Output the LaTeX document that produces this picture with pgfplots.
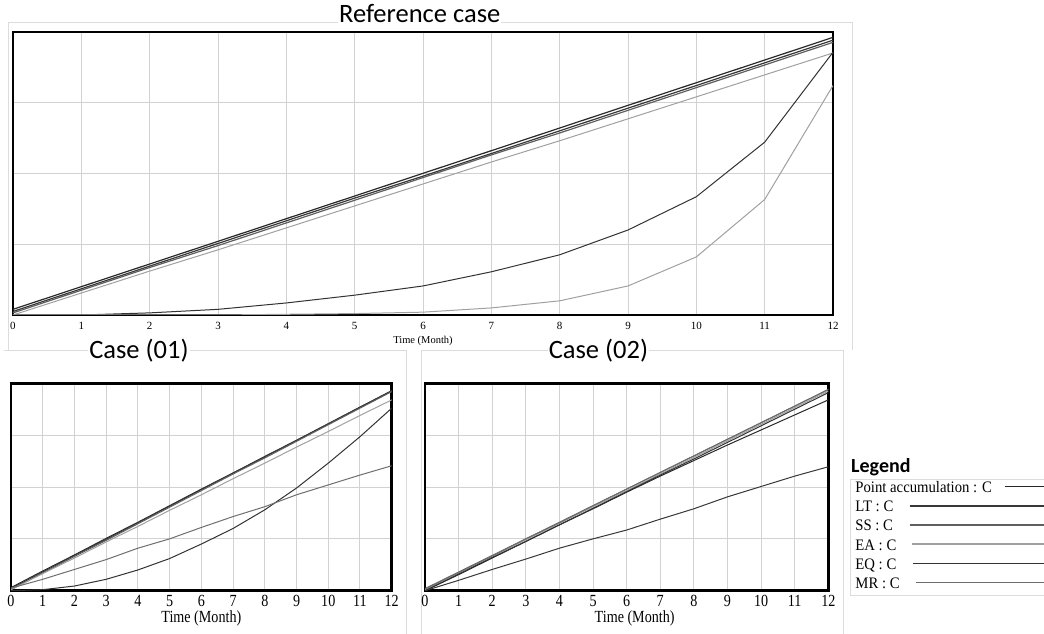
\documentclass[border=0pt]{standalone}
\usepackage{fontspec}
\setmainfont{Liberation Serif}
\newfontfamily\calib{Carlito}
\newfontfamily\narrowser[FakeStretch=0.83]{Liberation Serif}
\newfontfamily\legser[FakeStretch=0.92]{Liberation Serif}
\usepackage{pgfplots}
\pgfplotsset{compat=1.18}
\usepackage{pgfplotstable}

\definecolor{gridc}{RGB}{210,210,210}
\definecolor{framec}{RGB}{220,220,220}
\definecolor{cPA}{RGB}{40,40,40}
\definecolor{cLT}{RGB}{55,55,55}
\definecolor{cSS}{RGB}{95,95,95}
\definecolor{cEA}{RGB}{160,160,160}
\definecolor{cEQ}{RGB}{50,50,50}
\definecolor{cMR}{RGB}{110,110,110}

% reference case
\pgfplotstableread{
x  PA   LT   SS   EA   EQ   MR
0  0.08 0.05 0.03 0.00 0.00 0.00
1  0.40 0.37 0.35 0.31 0.00 0.00
2  0.72 0.69 0.67 0.62 0.03 0.00
3  1.04 1.01 0.98 0.92 0.08 0.00
4  1.36 1.33 1.30 1.23 0.17 0.01
5  1.68 1.65 1.62 1.54 0.28 0.02
6  2.00 1.96 1.94 1.85 0.41 0.04
7  2.32 2.28 2.26 2.16 0.61 0.10
8  2.64 2.60 2.57 2.46 0.85 0.20
9  2.96 2.92 2.89 2.77 1.20 0.41
10 3.28 3.24 3.21 3.08 1.67 0.82
11 3.60 3.56 3.53 3.39 2.44 1.63
12 3.92 3.88 3.85 3.70 3.71 3.24
}\refcase

% case (01)
\pgfplotstableread{
x  PA   LT   SS   EA   EQ   MR
0  0.06 0.04 0.02 0.02 0.00 0.05
1  0.38 0.36 0.34 0.33 0.02 0.22
2  0.69 0.68 0.66 0.63 0.09 0.41
3  1.01 0.99 0.97 0.94 0.22 0.60
4  1.32 1.31 1.29 1.24 0.40 0.82
5  1.64 1.63 1.61 1.55 0.62 1.00
6  1.96 1.95 1.93 1.85 0.90 1.22
7  2.27 2.27 2.25 2.16 1.20 1.43
8  2.59 2.58 2.56 2.46 1.56 1.62
9  2.90 2.90 2.88 2.77 1.98 1.85
10 3.22 3.22 3.20 3.07 2.46 2.04
11 3.54 3.54 3.52 3.38 2.97 2.23
12 3.85 3.86 3.84 3.68 3.52 2.41
}\caseone

% case (02)
\pgfplotstableread{
x  PA   LT   SS   EA   EQ   MR
0  0.00 0.00 0.04 0.02 0.00 0.03
1  0.31 0.20 0.36 0.34 0.32 0.35
2  0.63 0.41 0.68 0.66 0.64 0.67
3  0.95 0.61 1.00 0.98 0.95 1.00
4  1.27 0.82 1.32 1.30 1.27 1.31
5  1.58 1.00 1.64 1.62 1.59 1.64
6  1.90 1.17 1.96 1.93 1.91 1.96
7  2.21 1.38 2.28 2.25 2.23 2.28
8  2.51 1.58 2.60 2.57 2.54 2.60
9  2.81 1.81 2.92 2.89 2.86 2.92
10 3.10 2.01 3.24 3.21 3.18 3.24
11 3.39 2.21 3.56 3.53 3.50 3.56
12 3.68 2.39 3.88 3.85 3.82 3.88
}\casetwo

\pgfplotsset{
  simbase/.style={
    scale only axis, anchor=north west,
    xmin=0, xmax=12, ymin=0, ymax=4,
    xtick={0,...,12}, ytick={0,1,2,3,4}, yticklabels={},
    major tick length=0pt,
    grid=major, grid style={color=gridc, line width=1pt},
    axis line style={line width=2pt, black},
    /pgf/number format/assume math mode=true,
    title style={fill=white, inner sep=1pt, anchor=base,
      font=\calib\fontsize{26.5}{30}\selectfont},
    every axis plot/.append style={line width=1pt},
  },
  smallcase/.style={
    simbase, axis line style={line width=2.5pt, black},
    xticklabel style={font=\narrowser\fontsize{17}{17}\selectfont, yshift=-1pt},
    xlabel style={font=\narrowser\fontsize{17}{17}\selectfont, inner sep=0pt},
    title style={yshift=19pt},
  },
  % legend key: a line whose left part reaches back into the text column
  legline/.style={legend image code/.code={%
    \draw[##1, overlay, line width=1.3pt] (-#1,3pt) -- (0pt,3pt);
    \draw[##1, line width=1.3pt] (0pt,3pt) -- (45pt,3pt);}},
}

\begin{document}
\begin{tikzpicture}
\useasboundingbox (0,0) rectangle (1044pt,-634pt);
% light frames of the three panels
\draw[framec, line width=1pt] (8pt,-350pt) -- (8pt,-23pt) -- (852pt,-23pt) -- (852pt,-350pt);
\draw[framec, line width=1pt] (4pt,-350pt) -- (406pt,-350pt) -- (406pt,-634pt);
\draw[framec, line width=1pt] (421.7pt,-634pt) -- (421.7pt,-350pt) -- (843pt,-350pt) -- (843pt,-634pt);

\begin{axis}[simbase,
  at={(13pt,-31.7pt)}, width=820pt, height=283.3pt,
  title={Reference case},
  title style={at={(0.496,1)}, yshift=3.5pt, text depth=0pt},
  xticklabel style={font=\fontsize{11}{11}\selectfont, yshift=-3.5pt},
  xlabel={Time (Month)},
  xlabel style={font=\fontsize{10.5}{10.5}\selectfont, inner sep=0pt, yshift=-3pt},
]
\addplot[cPA, line width=1.2pt] table[y=PA] {\refcase};
\addplot[cLT, line width=1.2pt] table[y=LT] {\refcase};
\addplot[cSS, line width=1.2pt] table[y=SS] {\refcase};
\addplot[cEA] table[y=EA] {\refcase};
\addplot[cEQ] table[y=EQ] {\refcase};
\addplot[cEA] table[y=MR] {\refcase};
\end{axis}

\begin{axis}[smallcase,
  at={(11pt,-383.3pt)}, width=380.7pt, height=207.4pt,
  title={Case (01)}, title style={at={(0.336,1)}},
  xlabel={Time (Month)},
]
\addplot[cPA] table[y=PA] {\caseone};
\addplot[cLT] table[y=LT] {\caseone};
\addplot[cSS] table[y=SS] {\caseone};
\addplot[cEA] table[y=EA] {\caseone};
\addplot[cEQ] table[y=EQ] {\caseone};
\addplot[cMR] table[y=MR] {\caseone};
\end{axis}

\begin{axis}[smallcase,
  at={(425pt,-383.3pt)}, width=403.3pt, height=207.4pt,
  title={Case (02)}, title style={at={(0.43,1)}},
  xlabel={Time (Month)}, xlabel style={xshift=8pt},
  legend plot pos=right, legend cell align=left,
  legend style={at={(1.0536,0.5396)}, anchor=north west,
    draw=framec, line width=1pt, inner xsep=5pt, inner ysep=1pt,
    row sep=0pt, column sep=12pt,
    font=\legser\fontsize{16}{19}\selectfont,
    nodes={inner sep=0pt, text height=12.5pt, text depth=6.6pt}},
]
\addplot[cPA, legline=0pt] table[y=PA] {\casetwo};
\addplot[cLT, legline=95pt] table[y=LT] {\casetwo};
\addplot[cSS, legline=95pt] table[y=SS] {\casetwo};
\addplot[cEA, legline=93pt] table[y=EA] {\casetwo};
\addplot[cEQ, legline=92pt] table[y=EQ] {\casetwo};
\addplot[cMR, legline=89pt] table[y=MR] {\casetwo};
\legend{Point accumulation : C, LT : C, SS : C, EA : C, EQ : C, MR : C}
\end{axis}

\node[anchor=base west, inner sep=0pt, font=\calib\bfseries\fontsize{20}{20}\selectfont]
  at (851pt,-472pt) {Legend};
\end{tikzpicture}
\end{document}
